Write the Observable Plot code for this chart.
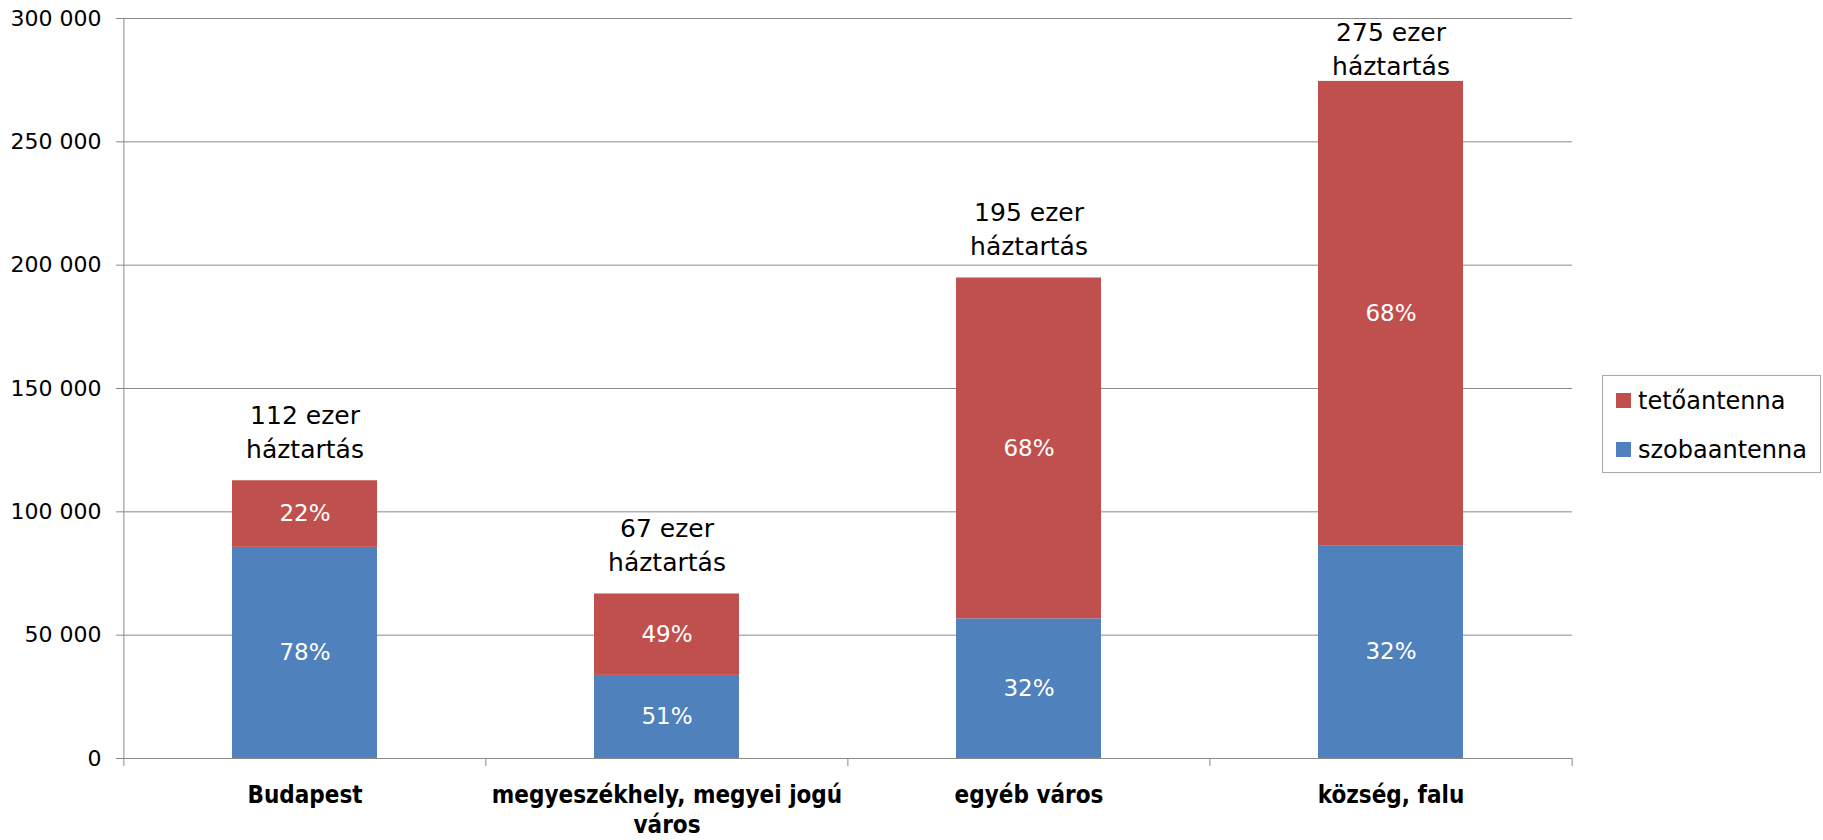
<!DOCTYPE html>
<html>
<head>
<meta charset="utf-8">
<script src="https://cdn.jsdelivr.net/npm/d3@7"></script>
<script src="https://cdn.jsdelivr.net/npm/@observablehq/plot@0.6"></script>
<style>
  html, body { margin: 0; padding: 0; background: #fff; }
  #wrap { position: relative; width: 1823px; height: 840px; }
  #chart svg { overflow: visible; }
  #legend { position: absolute; left: 1602px; top: 375px; width: 219px; height: 98px;
    box-sizing: border-box; border: 1px solid #a9a9a9; background: #fff;
    font-family: "DejaVu Sans", sans-serif; font-size: 24px; color: #000; }
  #legend .sw { position: absolute; left: 13px; width: 15px; height: 15px; }
  #legend .lb { position: absolute; left: 35px; line-height: 24px; white-space: nowrap; }
</style>
</head>
<body>
<div id="wrap"><div id="chart"></div><div id="legend"></div></div>
<script>
// ---- data ----
const categories = ["Budapest", "megyeszékhely, megyei jogú város", "egyéb város", "község, falu"];
const xTickLabels = ["Budapest", "megyeszékhely, megyei jogú\nváros", "egyéb város", "község, falu"];
const seriesNames = ["szobaantenna", "tetőantenna"];
const seriesColors = ["#4F81BD", "#C0504D"];
const szobaValues = [85600, 33700, 56600, 86300];
const tetoValues = [27000, 33000, 138200, 188200];
const szobaPct = ["78%", "51%", "32%", "32%"];
const tetoPct = ["22%", "49%", "68%", "68%"];
const totalLabels = ["112 ezer\nháztartás", "67 ezer\nháztartás", "195 ezer\nháztartás", "275 ezer\nháztartás"];
const yTicks = [0, 50000, 100000, 150000, 200000, 250000, 300000];

// ---- layout ----
const W = 1823, H = 840, mL = 123, mR = 251, mT = 18, mB = 82;
const plotW = W - mL - mR, plotH = H - mT - mB;
const step = plotW / categories.length;
const gridColor = "#8a8a8a";
const yMax = 300000;

const rows = [];
categories.forEach((c, i) => rows.push({category: c, series: seriesNames[0], value: szobaValues[i], pct: szobaPct[i]}));
categories.forEach((c, i) => rows.push({category: c, series: seriesNames[1], value: tetoValues[i], pct: tetoPct[i]}));
const totals = categories.map((c, i) => ({category: c, total: szobaValues[i] + tetoValues[i], label: totalLabels[i]}));

const fmt = d => String(d).replace(/\B(?=(\d{3})+(?!\d))/g, " ");

const totalMarks = totals.map(t => {
  const ypix = mT + (1 - t.total / yMax) * plotH;
  const dy = Math.max(-23, mT + 56 - ypix);
  return Plot.text([t], {x: "category", y: "total", text: "label", lineAnchor: "bottom",
    dy, fontSize: 25, lineHeight: 1.36, fill: "#000"});
});

const chart = Plot.plot({
  width: W, height: H,
  marginLeft: mL, marginRight: mR, marginTop: mT, marginBottom: mB,
  style: {fontFamily: "DejaVu Sans, sans-serif", fontSize: "22px", color: "#000", background: "#fff", overflow: "visible"},
  x: {domain: categories, paddingInner: 0.6, paddingOuter: 0.3, label: null},
  y: {domain: [0, yMax], label: null},
  color: {domain: seriesNames, range: seriesColors},
  marks: [
    Plot.gridY(yTicks, {stroke: gridColor, strokeOpacity: 1, strokeWidth: 1}),
    Plot.axisY(yTicks, {tickSize: 7, tickPadding: 15, tickFormat: fmt, stroke: gridColor, label: null, fontSize: 22}),
    Plot.barY(rows, {x: "category", y: "value", fill: "series"}),
    Plot.text(rows, Plot.stackY({x: "category", y: "value", z: "series", text: "pct", fill: "white", fontSize: 23})),
    Plot.ruleX([categories[0]], {x: d => d, dx: -step / 2, insetBottom: -8, stroke: gridColor}),
    Plot.ruleX(categories.slice(1), {x: d => d, dx: -step / 2, insetTop: plotH, insetBottom: -8, stroke: gridColor}),
    Plot.ruleX([categories[categories.length - 1]], {x: d => d, dx: step / 2, insetTop: plotH, insetBottom: -8, stroke: gridColor}),
    ...totalMarks,
    Plot.axisX({tickSize: 0, tickPadding: 23, label: null,
      tickFormat: d => xTickLabels[categories.indexOf(d)],
      fontSize: 24, fontWeight: "bold", lineHeight: 1.26,
      fontFamily: "'DejaVu Sans Condensed', 'DejaVu Sans', sans-serif"})
  ]
});
chart.querySelectorAll("g[aria-label='x-axis tick label'] text").forEach(t => t.style.fontStretch = "condensed");
document.getElementById("chart").appendChild(chart);

// ---- legend (reverse order, as in the original) ----
const legend = document.getElementById("legend");
const legendOrder = [1, 0];
legendOrder.forEach((si, k) => {
  const sw = document.createElement("div");
  sw.className = "sw";
  sw.style.top = (17 + k * 49) + "px";
  sw.style.background = seriesColors[si];
  const lb = document.createElement("div");
  lb.className = "lb";
  lb.style.top = (13 + k * 49) + "px";
  lb.textContent = seriesNames[si];
  legend.appendChild(sw);
  legend.appendChild(lb);
});
</script>
</body>
</html>
